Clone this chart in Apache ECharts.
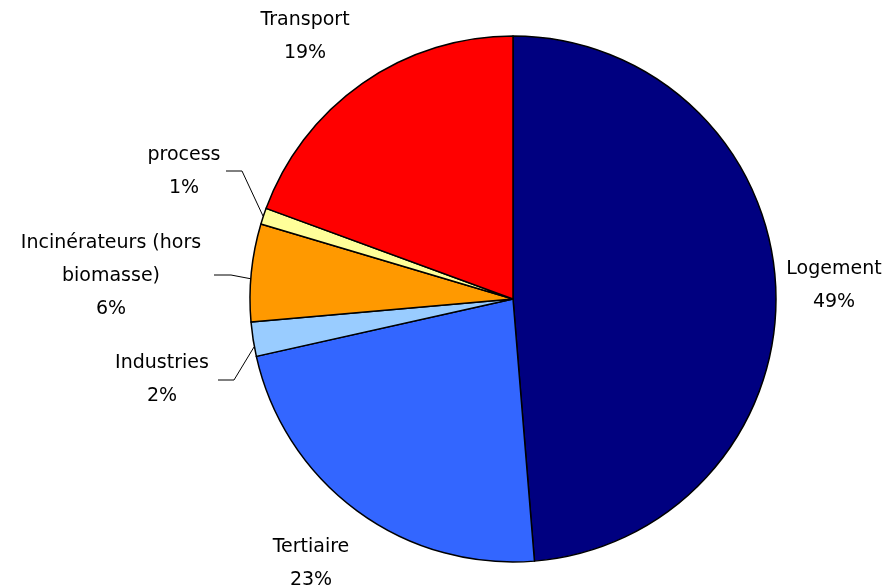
<!DOCTYPE html>
<html>
<head>
<meta charset="utf-8">
<script src="https://cdn.jsdelivr.net/npm/echarts@6/dist/echarts.min.js"></script>
<style>html,body{margin:0;padding:0;background:#fff}#c{width:886px;height:587px}</style>
</head>
<body>
<div id="c"></div>
<script>
const categories = ['Logement', 'Tertiaire', 'Industries', 'Incinérateurs (hors biomasse)', 'process', 'Transport'];
const values = [48.7, 22.8, 2.1, 6.0, 1.0, 19.4];
const colors = ['#000080', '#3366FF', '#99CCFF', '#FF9900', '#FFFF99', '#FF0000'];

// label placement (centre of text block) and leader lines
const labelPos = [[834, 286], [311, 564], [162, 380], [111, 276], [184, 172], [305, 37]];
const leaders = [null, null,
  [[254, 347], [234, 380], [218, 380]],
  [[252, 279], [231, 275], [214, 275]],
  [[263, 216], [242, 171], [226, 171]],
  null];

const chart = echarts.init(document.getElementById('c'));
chart.setOption({
  animation: false,
  series: [{
    type: 'pie',
    center: [513, 299],
    radius: 263,
    startAngle: 90,
    clockwise: true,
    avoidLabelOverlap: false,
    itemStyle: { borderColor: '#000', borderWidth: 1.5 },
    label: {
      show: true,
      position: 'outside',
      fontFamily: 'DejaVu Sans',
      fontSize: 19,
      lineHeight: 33,
      color: '#000',
      align: 'center',
      formatter: p => p.name.replace(' biomasse', '\nbiomasse') + '\n' + Math.round(p.percent) + '%'
    },
    labelLine: { show: true, lineStyle: { color: '#000', width: 1 } },
    labelLayout: function (params) {
      const i = params.dataIndex;
      const r = { x: labelPos[i][0], y: labelPos[i][1], align: 'center', verticalAlign: 'middle' };
      if (leaders[i]) r.labelLinePoints = leaders[i];
      return r;
    },
    data: categories.map((n, i) => ({
      name: n, value: values[i],
      itemStyle: { color: colors[i] },
      labelLine: { show: !!leaders[i] }
    }))
  }]
});
</script>
</body>
</html>
